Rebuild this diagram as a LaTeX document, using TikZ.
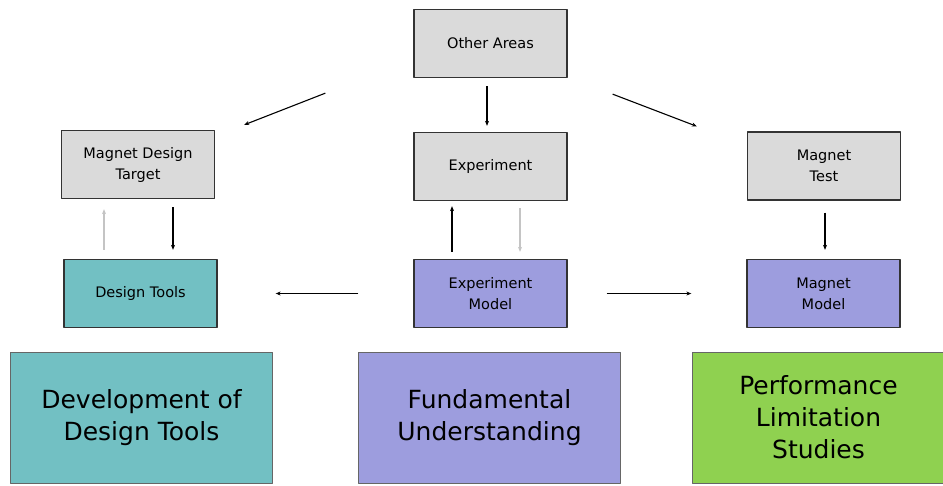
\documentclass[tikz,border=0pt]{standalone}
\usepackage{fontspec}
\setmainfont{DejaVu Sans}
\usetikzlibrary{arrows.meta}
\definecolor{boxgray}{HTML}{DADADA}
\definecolor{teal}{HTML}{72C0C3}
\definecolor{lilac}{HTML}{9D9DDE}
\definecolor{leaf}{HTML}{8FD150}
\definecolor{faint}{HTML}{C4C4C4}
\begin{document}
\begin{tikzpicture}[x=1pt, y=-1pt, line join=round, >={Stealth[length=5pt,width=4pt]},
	smallbox/.style={draw=black!80, line width=1.3pt, minimum width=153pt, minimum height=68pt, align=center, font=\fontsize{14.5}{21}\selectfont, inner sep=0pt},
	bigbox/.style={draw=black!60, line width=0.9pt, minimum width=262pt, minimum height=131pt, align=center, font=\fontsize{25}{32}\selectfont, inner sep=0pt},
	link/.style={->, line width=1.1pt},
	paleLink/.style={->, line width=1.1pt, draw=faint}]
	\useasboundingbox (0,0) rectangle (943,485);
	% top row
	\node[smallbox, fill=boxgray] (other) at (490.5,43.5) {Other Areas};
	\node[smallbox, fill=boxgray] (target) at (138,164.5) {Magnet Design\\Target};
	\node[smallbox, fill=boxgray] (exper) at (490.5,166.5) {Experiment};
	\node[smallbox, fill=boxgray] (mtest) at (824,166) {Magnet\\Test};
	% model row
	\node[smallbox, fill=teal] (dtools) at (140.5,293.5) {Design Tools};
	\node[smallbox, fill=lilac] (expmodel) at (490.5,293.5) {Experiment\\Model};
	\node[smallbox, fill=lilac] (mmodel) at (823.5,293.5) {Magnet\\Model};
	% study areas
	\node[bigbox, fill=teal] (devel) at (141.5,417.5) {Development of\\Design Tools};
	\node[bigbox, fill=lilac] (fund) at (489.5,417.5) {Fundamental\\Understanding};
	\node[bigbox, fill=leaf, minimum width=253pt] (perf) at (818.5,417.5) {Performance\\Limitation\\Studies};
	% connectors
	\draw[link] ([xshift=-88pt,yshift=-15pt]other.south west) -- ([xshift=29pt,yshift=5pt]target.north east);
	\draw[link] ([xshift=45pt,yshift=-16pt]other.south east) -- ([xshift=-50pt,yshift=5pt]mtest.north west);
	\draw[link, shorten <=8pt, shorten >=6pt] ([xshift=-3.5pt]other.south) -- ([xshift=-3.5pt]exper.north);
	\draw[paleLink, shorten <=9pt, shorten >=10pt] ([xshift=-36.5pt]dtools.north) -- ([xshift=-34pt]target.south);
	\draw[link, shorten <=8pt, shorten >=9pt] ([xshift=35pt]target.south) -- ([xshift=32.5pt]dtools.north);
	\draw[link, shorten <=7pt, shorten >=5pt] ([xshift=-38.5pt]expmodel.north) -- ([xshift=-38.5pt]exper.south);
	\draw[paleLink, shorten <=7pt, shorten >=7pt] ([xshift=29.5pt]exper.south) -- ([xshift=29.5pt]expmodel.north);
	\draw[link, shorten <=12pt, shorten >=9pt] ([xshift=1pt]mtest.south) -- ([xshift=1.5pt]mmodel.north);
	\draw[link, shorten <=55pt, shorten >=58pt] (expmodel.west) -- (dtools.east);
	\draw[link, shorten <=39pt, shorten >=55pt] (expmodel.east) -- (mmodel.west);
\end{tikzpicture}
\end{document}
